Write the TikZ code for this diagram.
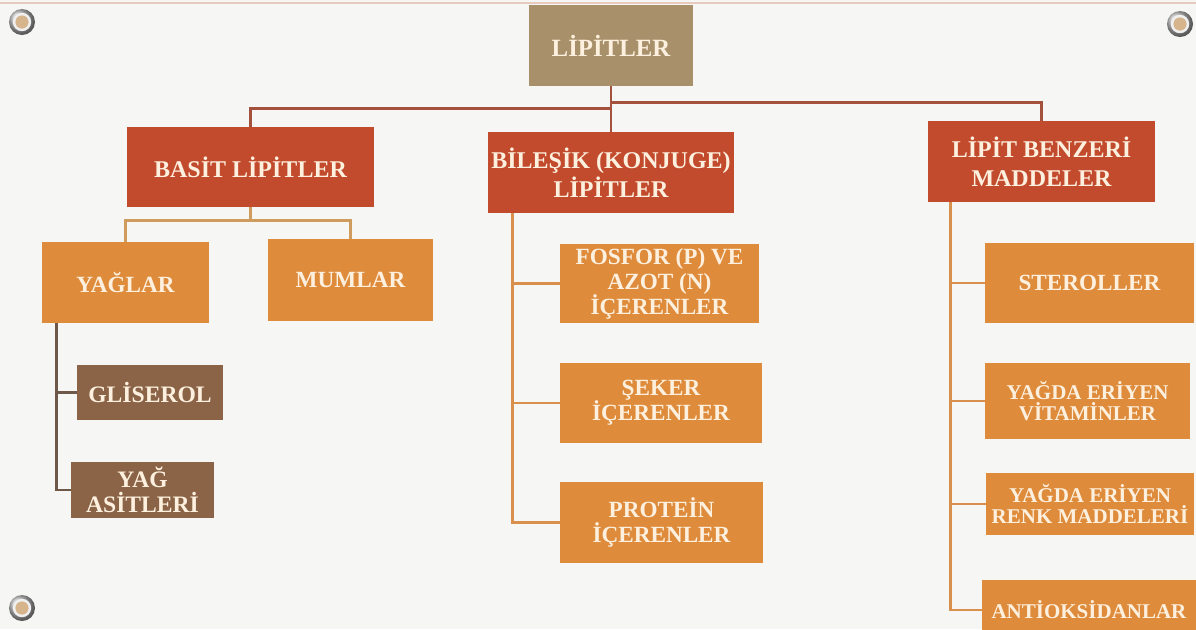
\documentclass[tikz,border=0pt]{standalone}
\usepackage{fontspec}
\setmainfont{Liberation Serif}
\usetikzlibrary{positioning}

\definecolor{bgcol}{HTML}{F6F6F5}
\definecolor{edgecol}{HTML}{E6CBBE}
\definecolor{titlecol}{HTML}{A8916A}
\definecolor{redcol}{HTML}{C24B2E}
\definecolor{orangecol}{HTML}{DE8B3C}
\definecolor{browncol}{HTML}{8B6447}
\definecolor{textcol}{HTML}{FDF0DE}
\definecolor{linkred}{HTML}{A4523E}
\definecolor{linktan}{HTML}{D09C5E}
\definecolor{linkorange}{HTML}{D9904C}
\definecolor{linkbrown}{HTML}{6E5849}
\definecolor{screwcol}{HTML}{D6B48C}

\tikzset{
  box/.style={rectangle, inner sep=1pt, align=center, text=textcol},
  titlebox/.style={box, fill=titlecol, font=\bfseries\fontsize{12.4}{14}\selectfont},
  mainbox/.style={box, fill=redcol, font=\bfseries\fontsize{12}{14.5}\selectfont},
  subbox/.style={box, fill=orangecol, font=\bfseries\fontsize{11.6}{12.5}\selectfont},
  smallbox/.style={box, fill=orangecol, font=\bfseries\fontsize{10.5}{10.5}\selectfont},
  leafbox/.style={box, fill=browncol, font=\bfseries\fontsize{11.8}{12.5}\selectfont},
  toplink/.style={draw=linkred, line width=1.3pt},
  tanlink/.style={draw=linktan, line width=1.3pt},
  orlink/.style={draw=linkorange, line width=1.3pt},
  brlink/.style={draw=linkbrown, line width=1.3pt}
}

\begin{document}
\begin{tikzpicture}[x=0.5pt, y=-0.5pt]
  % background
  \fill[bgcol] (0,0) rectangle (1196,629);
  \clip (0,0) rectangle (1196,629);
  \draw[edgecol, line width=0.8pt] (0,3) -- (1196,3);

  % screws
  \foreach \sx/\sy in {22/22, 1180/24, 22/608} {
    \shade[ball color=gray!45] (\sx,\sy) circle (6.5pt);
    \fill[gray!12] (\sx,\sy) circle (4.6pt);
    \fill[screwcol] (\sx,\sy) circle (3.3pt);
  }

  % top level
  \node[titlebox, minimum width=82pt, minimum height=40.5pt] (lip) at (611,45.5) {LİPİTLER};

  \node[mainbox, minimum width=123.5pt, minimum height=40pt] (basit) at (250.5,167) {BASİT LİPİTLER};
  \node[mainbox, minimum width=123pt, minimum height=40.5pt] (bilesik) at (611,172.5) {BİLEŞİK (KONJUGE)\\LİPİTLER};
  \node[mainbox, minimum width=113.5pt, minimum height=40.5pt] (benzeri) at (1041.5,161.5) {LİPİT BENZERİ\\MADDELER};

  % basit lipitler
  \node[subbox, minimum width=83.5pt, minimum height=40.5pt] (yaglar) at (125.5,282.5) {YAĞLAR};
  \node[subbox, minimum width=82.5pt, minimum height=41pt] (mumlar) at (350.5,280) {MUMLAR};
  \node[leafbox, minimum width=73pt, minimum height=27.5pt] (gliserol) at (150,392.5) {GLİSEROL};
  \node[leafbox, minimum width=71.5pt, minimum height=28pt] (yagasit) at (142.5,490) {YAĞ\\ASİTLERİ};

  % bileşik lipitler
  \node[subbox, minimum width=99.5pt, minimum height=39.5pt] (fosfor) at (659.5,283.5) {FOSFOR (P) VE\\AZOT (N)\\İÇERENLER};
  \node[subbox, minimum width=101pt, minimum height=40pt] (seker) at (661,403) {ŞEKER\\İÇERENLER};
  \node[subbox, minimum width=101.5pt, minimum height=40.5pt] (protein) at (661.5,522.5) {PROTEİN\\İÇERENLER};

  % lipit benzeri maddeler
  \node[subbox, minimum width=104.5pt, minimum height=40pt] (sterol) at (1089.5,283) {STEROLLER};
  \node[smallbox, minimum width=102.5pt, minimum height=38pt] (vitamin) at (1087.5,401) {YAĞDA ERİYEN\\VİTAMİNLER};
  \node[smallbox, minimum width=104pt, minimum height=31pt] (renk) at (1090,504) {YAĞDA ERİYEN\\RENK MADDELERİ};
  \node[smallbox, minimum width=107pt, minimum height=30pt] (antiok) at (1089,610) {ANTİOKSİDANLAR};

  % connectors
  \draw[toplink] (lip.south) -- (bilesik.north);
  \draw[toplink] (basit.north) |- ([yshift=-11pt]lip.south);
  \draw[toplink] (benzeri.north) |- ([yshift=-8pt]lip.south);

  \draw[tanlink] (basit.south) -- ++(0,13) -| (yaglar.north);
  \draw[tanlink] (basit.south) ++(0,13) -| (mumlar.north);

  \draw[brlink] ([xshift=7.5pt]yaglar.south west) |- (gliserol.west);
  \draw[brlink] ([xshift=7.5pt]yaglar.south west) |- (yagasit.west);

  \foreach \n in {fosfor,seker,protein}
    \draw[orlink] ([xshift=12.5pt]bilesik.south west) |- (\n.west);

  \foreach \n in {sterol,vitamin,renk,antiok}
    \draw[orlink] ([xshift=11.5pt]benzeri.south west) |- (\n.west);
\end{tikzpicture}
\end{document}
